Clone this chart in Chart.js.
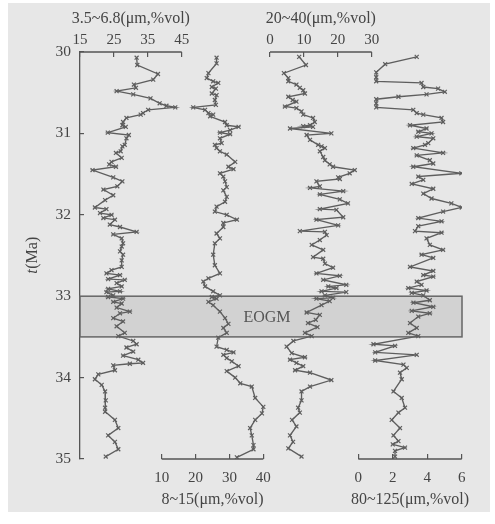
<!DOCTYPE html>
<html>
<head>
<meta charset="utf-8">
<script src="https://cdn.jsdelivr.net/npm/chart.js@4"></script>
<style>
html,body{margin:0;padding:0;background:#fff;}
canvas{display:block;}
</style>
</head>
<body>
<canvas id="c" width="495" height="524"></canvas>
<script>
// ---------- data ----------
// 3.5~6.8 um fraction (%vol) vs age (Ma)
const ages1 = [30.07,30.16,30.27,30.34,30.40,30.44,30.48,30.52,30.57,30.63,30.66,30.68,30.71,30.75,30.77,30.81,30.86,30.90,30.92,30.99,31.02,31.06,31.14,31.16,31.22,31.24,31.30,31.35,31.38,31.41,31.45,31.54,31.59,31.65,31.69,31.76,31.82,31.91,31.93,31.98,32.00,32.04,32.06,32.12,32.15,32.21,32.24,32.29,32.35,32.39,32.45,32.49,32.56,32.64,32.68,32.72,32.74,32.79,32.80,32.84,32.88,32.91,32.94,32.95,32.99,33.01,33.03,33.07,33.09,33.14,33.19,33.21,33.27,33.31,33.37,33.45,33.49,33.55,33.59,33.63,33.68,33.73,33.78,33.82,33.83,33.85,33.91,33.96,34.02,34.09,34.17,34.28,34.37,34.42,34.52,34.62,34.71,34.79,34.88,34.97];
const vals1 = [31.7,31.9,38.0,36.6,30.9,31.5,25.8,30.7,35.8,38.5,40.5,43.1,35.1,33.6,32.9,28.7,27.7,27.5,28.5,23.2,29.4,28.7,28.2,27.5,27.0,25.6,27.3,24.3,23.6,25.6,18.7,24.8,27.5,26.0,21.9,24.8,22.4,19.4,22.8,20.9,24.3,21.9,25.3,23.8,26.8,31.7,24.8,27.3,27.7,27.3,26.8,27.7,27.3,27.3,24.3,22.8,26.8,23.3,28.2,25.8,27.3,23.3,26.8,22.8,24.8,23.3,27.7,24.8,27.3,25.8,29.7,26.8,24.8,27.7,25.8,28.2,26.3,30.7,31.7,28.7,30.7,27.7,32.2,33.6,29.7,24.8,25.3,20.4,19.4,21.4,22.4,22.6,22.4,22.4,25.3,26.3,23.3,25.3,26.3,22.6];

// 8~15 um fraction (%vol)
const ages2 = [30.07,30.14,30.26,30.32,30.36,30.38,30.43,30.45,30.51,30.53,30.59,30.65,30.68,30.71,30.75,30.77,30.79,30.86,30.90,30.92,30.96,30.99,31.01,31.06,31.12,31.14,31.18,31.22,31.26,31.35,31.41,31.44,31.49,31.53,31.59,31.66,31.70,31.78,31.84,31.90,31.96,32.00,32.06,32.10,32.15,32.23,32.29,32.35,32.49,32.62,32.72,32.78,32.82,32.88,32.94,32.99,33.01,33.03,33.07,33.11,33.19,33.27,33.34,33.39,33.45,33.51,33.62,33.66,33.69,33.72,33.76,33.80,33.86,33.92,34.00,34.07,34.11,34.25,34.36,34.44,34.52,34.62,34.71,34.83,34.88,34.98];
const vals2 = [26.2,26.2,23.8,23.3,25.2,26.7,24.8,26.0,24.8,26.2,25.7,26.0,19.3,22.8,23.8,25.2,24.3,28.7,29.2,32.7,30.2,27.2,30.2,27.2,27.7,25.7,26.2,27.2,29.2,31.7,29.7,31.2,27.2,28.2,28.7,29.2,28.2,29.2,28.7,26.2,25.7,29.2,32.2,28.2,28.2,26.2,27.2,25.7,25.2,25.7,27.2,23.8,22.3,22.8,25.2,27.2,24.8,26.2,23.8,25.2,27.2,28.7,29.7,28.2,29.2,26.7,26.2,29.2,31.2,28.2,29.2,30.7,32.7,29.2,31.7,33.2,36.6,37.6,40.0,39.6,37.6,36.1,36.6,37.1,37.1,32.2];

// 20~40 um fraction (%vol)
const ages3 = [30.06,30.16,30.26,30.32,30.36,30.40,30.44,30.47,30.51,30.55,30.59,30.61,30.67,30.69,30.73,30.77,30.81,30.86,30.90,30.91,30.92,30.94,31.00,31.02,31.08,31.14,31.16,31.18,31.22,31.29,31.33,31.38,31.41,31.45,31.49,31.54,31.56,31.59,31.65,31.67,31.71,31.75,31.81,31.86,31.93,31.94,32.03,32.06,32.13,32.20,32.21,32.25,32.31,32.37,32.43,32.52,32.54,32.60,32.65,32.72,32.75,32.80,32.86,32.88,32.90,32.94,32.95,32.99,33.02,33.03,33.06,33.11,33.20,33.23,33.29,33.33,33.38,33.45,33.49,33.55,33.62,33.70,33.75,33.78,33.82,33.86,33.91,33.94,34.03,34.11,34.17,34.28,34.37,34.43,34.52,34.60,34.71,34.79,34.87,34.97];
const vals3 = [8.6,10.6,4.1,5.4,5.4,7.8,8.8,9.8,10.3,5.4,6.7,7.8,4.4,7.8,9.3,9.8,12.7,13.2,11.8,9.8,12.7,5.9,18.1,10.8,11.8,14.2,15.2,16.2,14.7,15.7,16.2,17.6,18.6,25.0,23.5,20.1,20.6,13.7,14.7,11.8,21.6,14.7,20.6,23.0,14.7,19.6,21.6,13.7,20.1,8.8,16.2,16.7,14.7,12.3,15.7,12.7,15.7,16.2,18.6,13.7,20.6,15.7,22.5,17.2,19.6,15.2,22.5,16.2,18.6,13.7,17.6,15.2,10.8,14.7,13.5,11.2,14.0,10.3,12.3,6.9,4.9,6.4,10.3,5.9,7.8,9.8,7.4,11.8,18.1,11.8,9.3,9.3,8.3,8.8,6.5,7.8,5.9,6.8,5.4,9.3];

// 80~125 um fraction (%vol)
const ages4 = [30.06,30.15,30.25,30.31,30.36,30.38,30.43,30.45,30.49,30.52,30.55,30.58,30.63,30.68,30.71,30.75,30.77,30.81,30.86,30.90,30.94,30.98,31.00,31.04,31.06,31.12,31.14,31.18,31.24,31.27,31.33,31.37,31.41,31.49,31.53,31.57,31.62,31.68,31.74,31.80,31.86,31.91,31.96,32.04,32.08,32.14,32.20,32.22,32.29,32.37,32.43,32.49,32.53,32.64,32.69,32.74,32.76,32.82,32.86,32.90,32.93,32.96,32.99,33.05,33.08,33.13,33.18,33.21,33.25,33.33,33.39,33.45,33.49,33.59,33.61,33.69,33.72,33.79,33.84,33.88,33.94,34.02,34.17,34.25,34.37,34.43,34.52,34.62,34.71,34.78,34.82,34.86,34.90,34.97];
const vals4 = [3.39,1.56,1.04,1.04,1.04,3.67,3.77,4.63,5.02,3.96,2.33,1.04,1.04,1.04,3.19,3.39,3.77,4.83,4.92,3.0,3.96,3.48,4.25,3.39,4.35,4.06,3.87,3.19,4.92,3.39,4.15,4.35,3.19,5.98,3.48,3.77,3.10,4.35,3.77,4.25,5.40,6.0,4.92,3.48,4.83,3.48,3.29,4.83,3.96,4.15,4.92,3.67,4.35,3.0,4.35,3.77,4.35,3.39,3.67,2.90,3.96,3.10,3.77,4.15,3.20,4.35,3.10,4.15,3.48,3.0,3.39,2.90,3.48,0.88,2.13,0.98,3.39,0.98,2.62,2.81,2.42,2.52,2.04,2.52,2.71,2.33,1.94,2.42,2.04,2.33,2.0,2.71,2.13,2.13];

// ticks and labels
const yTicks = [30,31,32,33,34,35];
const topLeftTicks = [15,25,35,45];
const topRightTicks = [0,10,20,30];
const bottomLeftTicks = [10,20,30,40];
const bottomRightTicks = [0,2,4,6];
const titleTopLeft = '3.5~6.8(\u03bcm,%vol)';
const titleTopRight = '20~40(\u03bcm,%vol)';
const titleBottomLeft = '8~15(\u03bcm,%vol)';
const titleBottomRight = '80~125(\u03bcm,%vol)';
const titleYItalic = 't';
const titleYRest = '(Ma)';
const bandStart = 33.0;
const bandEnd = 33.5;
const bandLabel = 'EOGM';

// ---------- layout / style ----------
const W = 495, H = 524;
const AREA = {left: 80, right: 462, top: 52, bottom: 459};
const SERIF = '"Liberation Serif", "DejaVu Serif", serif';
const INK = '#454545';
const AXIS = '#555555';
const LINE = '#5e5e5e';
const TITLE_SIZE = 16;

// linear map: value v0 at pixel p0, v1 at p1 -> min/max over a box [bl, br]
function rangeFor(bl, br, v0, p0, v1, p1) {
  const k = (v1 - v0) / (p1 - p0);
  return {min: v0 + (bl - p0) * k, max: v0 + (br - p0) * k};
}
const SPLIT_TOP = 182, SPLIT_BOT = 350;
const rTL = rangeFor(AREA.left, SPLIT_TOP, 15, 80, 45, 181.7);
const rTR = rangeFor(SPLIT_TOP, AREA.right, 0, 270, 30, 371.7);
const rBL = rangeFor(AREA.left, SPLIT_BOT, 10, 161.7, 40, 263.3);
const rBR = rangeFor(SPLIT_BOT, AREA.right, 0, 358.3, 6, 461.7);

const pairs = (ages, vals) => ages.map((a, i) => ({x: vals[i], y: a}));
const setTicks = arr => s => { s.ticks = arr.map(v => ({value: v})); };

function xAxis(pos, stack, weight, stackWeight, r, ticks, title, pad) {
  const isTop = pos === 'top';
  return {
    type: 'linear', axis: 'x', position: pos, stack: stack, stackWeight: stackWeight, weight: weight,
    min: r.min, max: r.max,
    afterBuildTicks: setTicks(ticks),
    afterFit: s => { s.height = isTop ? AREA.top : H - AREA.bottom; },
    ticks: {font: {family: SERIF, size: 15}, color: INK, padding: pad, maxRotation: 0, autoSkip: false},
    grid: {drawOnChartArea: false, drawTicks: true, tickLength: -5, color: AXIS, lineWidth: 1.2},
    border: {display: false},
    // title drawn by the axisDecor plugin, centred on the labelled range
    title: {display: false, text: title}
  };
}

const bgPlugin = {
  id: 'bg',
  beforeDraw(chart) {
    const c = chart.ctx;
    c.save();
    c.fillStyle = '#ffffff';
    c.fillRect(0, 0, W, H);
    c.fillStyle = '#e7e7e7';
    c.fillRect(8, 3, 482, 509);
    c.restore();
  }
};

const bandPlugin = {
  id: 'band',
  beforeDatasetsDraw(chart) {
    const c = chart.ctx, a = chart.chartArea, y = chart.scales.y;
    const y0 = y.getPixelForValue(bandStart), y1 = y.getPixelForValue(bandEnd);
    c.save();
    c.fillStyle = '#d2d2d2';
    c.fillRect(a.left, y0, a.right - a.left, y1 - y0);
    c.strokeStyle = '#666666';
    c.lineWidth = 1.5;
    c.strokeRect(a.left, y0, a.right - a.left, y1 - y0);
    c.fillStyle = '#555555';
    c.font = '16px ' + SERIF;
    c.textAlign = 'center';
    c.textBaseline = 'middle';
    c.fillText(bandLabel, (a.left + a.right) / 2 - 4, (y0 + y1) / 2 + 1);
    c.restore();
  }
};

// partial axis lines (only over the labelled range) and axis titles
const axisDecorPlugin = {
  id: 'axisDecor',
  afterDraw(chart) {
    const c = chart.ctx;
    c.save();
    for (const id of ['xTL', 'xTR', 'xBL', 'xBR']) {
      const s = chart.scales[id];
      const t = s.ticks;
      const p0 = s.getPixelForValue(t[0].value);
      const p1 = s.getPixelForValue(t[t.length - 1].value);
      const isTop = s.position === 'top';
      const yy = isTop ? s.bottom : s.top;
      c.strokeStyle = AXIS;
      c.lineWidth = 1.3;
      c.beginPath();
      c.moveTo(p0, yy);
      c.lineTo(p1, yy);
      c.stroke();
      c.fillStyle = INK;
      c.font = TITLE_SIZE + 'px ' + SERIF;
      c.textAlign = 'center';
      c.textBaseline = 'middle';
      c.fillText(s.options.title.text, (p0 + p1) / 2, isTop ? 19 : 500);
    }
    // y title: italic t + upright (Ma), rotated
    const ys = chart.scales.y;
    const cy = (ys.top + ys.bottom) / 2;
    c.translate(33, cy);
    c.rotate(-Math.PI / 2);
    c.fillStyle = INK;
    c.textBaseline = 'middle';
    c.textAlign = 'left';
    c.font = 'italic ' + TITLE_SIZE + 'px ' + SERIF;
    const w1 = c.measureText(titleYItalic).width;
    c.font = TITLE_SIZE + 'px ' + SERIF;
    const w2 = c.measureText(titleYRest).width;
    const x0 = -(w1 + w2) / 2;
    c.font = 'italic ' + TITLE_SIZE + 'px ' + SERIF;
    c.fillText(titleYItalic, x0, 0);
    c.font = TITLE_SIZE + 'px ' + SERIF;
    c.fillText(titleYRest, x0 + w1 + 0.5, 0);
    c.restore();
  }
};

const ds = (data, xid) => ({
  data: data, xAxisID: xid, yAxisID: 'y',
  borderColor: LINE, backgroundColor: LINE, borderWidth: 1.35,
  pointStyle: 'crossRot', pointRadius: 2.8, pointBorderWidth: 1.2,
  pointBorderColor: LINE, pointBackgroundColor: LINE,
  tension: 0, fill: false
});

new Chart(document.getElementById('c'), {
  type: 'line',
  data: {
    datasets: [
      ds(pairs(ages1, vals1), 'xTL'),
      ds(pairs(ages2, vals2), 'xBL'),
      ds(pairs(ages3, vals3), 'xTR'),
      ds(pairs(ages4, vals4), 'xBR')
    ]
  },
  options: {
    responsive: false,
    animation: false,
    devicePixelRatio: 1,
    layout: {padding: {left: 0, top: 0, right: W - AREA.right, bottom: 0}},
    plugins: {legend: {display: false}, tooltip: {enabled: false}},
    scales: {
      y: {
        type: 'linear', axis: 'y', position: 'left', reverse: true, min: 30, max: 35,
        afterBuildTicks: setTicks(yTicks),
        afterFit: s => { s.width = AREA.left; },
        ticks: {font: {family: SERIF, size: 15.5}, color: INK, padding: 13},
        grid: {drawOnChartArea: false, drawTicks: true, tickLength: -4, color: AXIS, lineWidth: 1.2},
        border: {display: true, color: AXIS, width: 1.3},
        title: {display: false}
      },
      xTL: xAxis('top', 'top', 2, SPLIT_TOP - AREA.left, rTL, topLeftTicks, titleTopLeft, 8),
      xTR: xAxis('top', 'top', 1, AREA.right - SPLIT_TOP, rTR, topRightTicks, titleTopRight, 8),
      xBL: xAxis('bottom', 'bot', 1, SPLIT_BOT - AREA.left, rBL, bottomLeftTicks, titleBottomLeft, 15),
      xBR: xAxis('bottom', 'bot', 2, AREA.right - SPLIT_BOT, rBR, bottomRightTicks, titleBottomRight, 15)
    }
  },
  plugins: [bgPlugin, bandPlugin, axisDecorPlugin]
});
</script>
</body>
</html>
